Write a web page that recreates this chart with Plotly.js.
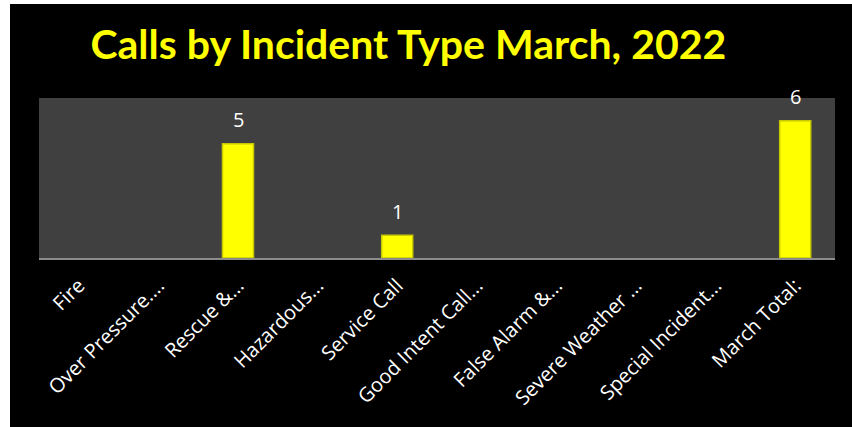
<!DOCTYPE html>
<html>
<head>
<meta charset="utf-8">
<script src="https://cdn.plot.ly/plotly-3.0.1.min.js"></script>
<style>
  html, body { margin: 0; padding: 0; background: #ffffff; width: 852px; height: 427px; overflow: hidden; }
  #chart { position: absolute; left: 10px; top: 4px; width: 842px; height: 423px; background: #000; }
</style>
</head>
<body>
<div id="chart"></div>
<script>
const categories = ["Fire", "Over Pressure....", "Rescue &...", "Hazardous...", "Service Call",
  "Good Intent Call...", "False Alarm &...", "Severe Weather ...", "Special Incident...", "March Total:"];
const values = [null, null, 5, null, 1, null, null, null, null, 6];
const chartTitle = "Calls by Incident Type March, 2022";

const annotations = [];
categories.forEach((c, i) => {
  if (values[i] !== null) {
    annotations.push({
      x: c, y: values[i], xref: "x", yref: "y",
      text: String(values[i]), showarrow: false,
      yanchor: "middle", yshift: 24,
      font: { family: "Open Sans, sans-serif", size: 20, color: "#ffffff" }
    });
  }
});

const trace = {
  type: "bar",
  x: categories,
  y: values,
  marker: { color: "#ffff00", line: { color: "#c8c800", width: 1.5 } },
  hoverinfo: "skip",
  cliponaxis: false
};

const layout = {
  width: 842, height: 423,
  paper_bgcolor: "#000000",
  plot_bgcolor: "#404040",
  margin: { l: 29, r: 17, t: 94, b: 169 },
  bargap: 0.61,
  showlegend: false,
  title: {
    text: "<b>" + chartTitle + "</b>",
    font: { family: "Lato, sans-serif", size: 41, color: "#ffff00" },
    x: 0.464, xref: "paper", xanchor: "center",
    y: 0.905, yref: "container", yanchor: "middle"
  },
  xaxis: {
    type: "category",
    tickangle: -45,
    tickfont: { family: "Open Sans, sans-serif", size: 20, color: "#ffffff" },
    showline: true, linecolor: "#8c8c8c", linewidth: 2,
    showgrid: false, ticks: "", ticklabelstandoff: 6,
    fixedrange: true
  },
  yaxis: {
    range: [0, 7],
    visible: false,
    showgrid: false, zeroline: false,
    fixedrange: true
  },
  annotations: annotations
};

Plotly.newPlot("chart", [trace], layout, { displayModeBar: false, staticPlot: true });
</script>
</body>
</html>
